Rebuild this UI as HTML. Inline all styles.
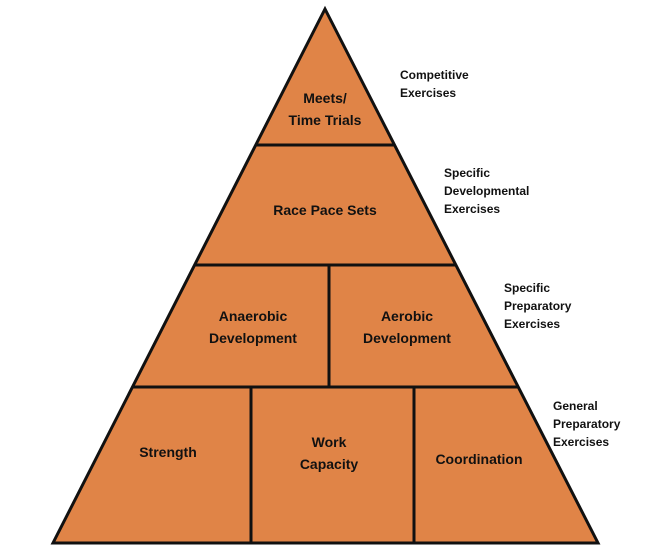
<!DOCTYPE html>
<html><head><style>
body{margin:0;background:#fff;}
svg text{font-family:"Liberation Sans",sans-serif;font-weight:bold;fill:#111;}
</style></head><body>
<svg width="649" height="552" viewBox="0 0 649 552" xmlns="http://www.w3.org/2000/svg">
<polygon points="325,9 53,543 598,543" fill="#E08447" stroke="#111" stroke-width="3" stroke-linejoin="miter"/>
<g stroke="#111" stroke-width="3">
<line x1="256" y1="145" x2="394" y2="145"/>
<line x1="195" y1="265" x2="455" y2="265"/>
<line x1="133" y1="387" x2="518" y2="387"/>
<line x1="329" y1="265" x2="329" y2="387"/>
<line x1="251" y1="387" x2="251" y2="543"/>
<line x1="414" y1="387" x2="414" y2="543"/>
</g>
<g font-size="14" text-anchor="middle">
<text x="325" y="103">Meets/</text>
<text x="325" y="125">Time Trials</text>
<text x="325" y="215">Race Pace Sets</text>
<text x="253" y="321">Anaerobic</text>
<text x="253" y="343">Development</text>
<text x="407" y="321">Aerobic</text>
<text x="407" y="343">Development</text>
<text x="168" y="457">Strength</text>
<text x="329" y="447">Work</text>
<text x="329" y="469">Capacity</text>
<text x="479" y="464">Coordination</text>
</g>
<g font-size="12">
<text x="400" y="79">Competitive</text>
<text x="400" y="97">Exercises</text>
<text x="444" y="177">Specific</text>
<text x="444" y="195">Developmental</text>
<text x="444" y="213">Exercises</text>
<text x="504" y="292">Specific</text>
<text x="504" y="310">Preparatory</text>
<text x="504" y="328">Exercises</text>
<text x="553" y="410">General</text>
<text x="553" y="428">Preparatory</text>
<text x="553" y="446">Exercises</text>
</g>
</svg>
</body></html>
